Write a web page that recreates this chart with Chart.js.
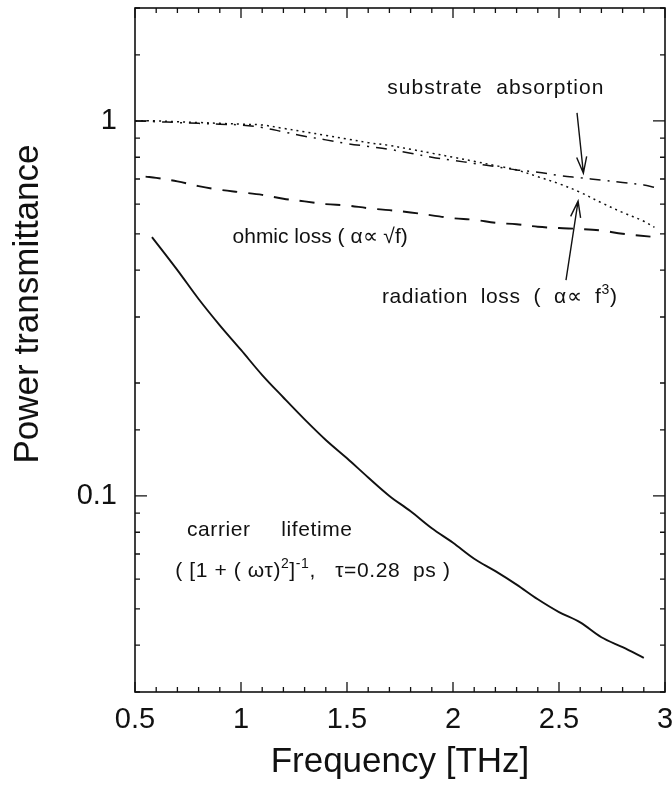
<!DOCTYPE html>
<html>
<head>
<meta charset="utf-8">
<script src="https://cdn.jsdelivr.net/npm/chart.js@4/dist/chart.umd.min.js"></script>
<style>
html, body { margin: 0; padding: 0; background: #fff; }
#wrap { width: 672px; height: 797px; }
</style>
</head>
<body>
<div id="wrap"><canvas id="chart"></canvas></div>
<script>
// frequencies [THz]
const freqUpper   = [0.5, 0.6, 0.7, 0.8, 0.9, 1.0, 1.1, 1.2, 1.3, 1.4, 1.5, 1.6, 1.7, 1.8, 1.9, 2.0, 2.1, 2.2, 2.3, 2.4, 2.5, 2.6, 2.7, 2.8, 2.9, 2.95];
const freqOhmic   = [0.55, 0.6, 0.7, 0.8, 0.9, 1.0, 1.1, 1.2, 1.3, 1.4, 1.5, 1.6, 1.7, 1.8, 1.9, 2.0, 2.1, 2.2, 2.3, 2.4, 2.5, 2.6, 2.7, 2.8, 2.95];
const freqCarrier = [0.58, 0.7, 0.8, 0.9, 1.0, 1.1, 1.2, 1.3, 1.4, 1.5, 1.6, 1.7, 1.8, 1.9, 2.0, 2.1, 2.2, 2.3, 2.4, 2.5, 2.6, 2.7, 2.8, 2.9];

// power transmittance
const substrateAbs    = [1.0, 0.995, 0.99, 0.985, 0.98, 0.975, 0.96, 0.935, 0.91, 0.89, 0.87, 0.855, 0.84, 0.82, 0.80, 0.785, 0.77, 0.755, 0.74, 0.73, 0.715, 0.705, 0.695, 0.685, 0.675, 0.665];
const radiationLoss   = [1.0, 1.0, 0.995, 0.99, 0.985, 0.98, 0.975, 0.955, 0.935, 0.915, 0.895, 0.875, 0.86, 0.84, 0.82, 0.80, 0.78, 0.76, 0.74, 0.71, 0.68, 0.645, 0.605, 0.57, 0.54, 0.52];
const ohmicLoss       = [0.71, 0.705, 0.69, 0.67, 0.655, 0.645, 0.635, 0.62, 0.61, 0.60, 0.595, 0.585, 0.578, 0.57, 0.56, 0.55, 0.545, 0.535, 0.53, 0.522, 0.518, 0.515, 0.51, 0.50, 0.49];
const carrierLifetime = [0.49, 0.40, 0.335, 0.285, 0.245, 0.21, 0.183, 0.16, 0.141, 0.126, 0.112, 0.10, 0.091, 0.082, 0.075, 0.068, 0.063, 0.058, 0.053, 0.049, 0.046, 0.042, 0.0395, 0.037];

// axis ranges and labelled ticks
const xRange = [0.5, 3];
const yRange = [0.03, 2];
const xTickLabels = ['0.5', '1', '1.5', '2', '2.5', '3'];
const yTickLabels = ['0.1', '1'];

const FONT = '"Liberation Sans", Arial, Helvetica, sans-serif';
const INK = '#111';

const pts = (xs, ys) => xs.map((x, i) => ({ x: x, y: ys[i] }));

const lineSet = (label, data, dash, width) => ({
    label: label,
    data: data,
    borderColor: INK,
    borderWidth: width,
    borderDash: dash,
    pointRadius: 0,
    fill: false,
    tension: 0.35
});

// keep tick labels from pushing the plot area inwards
const noOverhang = s => {
    s.paddingLeft = 0; s.paddingRight = 0;
    s.paddingTop = 0;  s.paddingBottom = 0;
};

// frame, inward ticks on all four sides, notes and the y title
const decor = {
    id: 'decor',
    afterDraw(chart) {
        const ctx = chart.ctx;
        const xs = chart.scales.x;
        const ys = chart.scales.y;
        const a = chart.chartArea;

        ctx.save();
        ctx.strokeStyle = INK;
        ctx.lineWidth = 1.6;
        ctx.strokeRect(a.left, a.top, a.right - a.left, a.bottom - a.top);

        ctx.lineWidth = 1.3;
        ctx.beginPath();
        xs.ticks.forEach(t => {
            const px = xs.getPixelForValue(t.value);
            const major = Math.abs(t.value * 2 - Math.round(t.value * 2)) < 1e-6;
            const len = major ? 10 : 5;
            ctx.moveTo(px, a.bottom); ctx.lineTo(px, a.bottom - len);
            ctx.moveTo(px, a.top);    ctx.lineTo(px, a.top + len);
        });
        ys.ticks.forEach(t => {
            const py = ys.getPixelForValue(t.value);
            const lg = Math.log10(t.value);
            const major = Math.abs(lg - Math.round(lg)) < 1e-6;
            const len = major ? 12 : 5;
            ctx.moveTo(a.left, py);  ctx.lineTo(a.left + len, py);
            ctx.moveTo(a.right, py); ctx.lineTo(a.right - len, py);
        });
        ctx.stroke();

        // y axis title
        ctx.fillStyle = INK;
        ctx.save();
        ctx.translate(28, 304);
        ctx.rotate(-Math.PI / 2);
        ctx.font = '35px ' + FONT;
        ctx.textAlign = 'center';
        ctx.textBaseline = 'middle';
        ctx.fillText('Power transmittance', 0, 0);
        ctx.restore();

        // text runs with superscripts, placed in data units
        const run = (fx, fy, parts, size, spacing) => {
            let x = xs.getPixelForValue(fx);
            const y = ys.getPixelForValue(fy);
            ctx.textAlign = 'left';
            ctx.textBaseline = 'alphabetic';
            ctx.letterSpacing = (spacing || 0) + 'px';
            parts.forEach(p => {
                const sup = typeof p !== 'string';
                const s = sup ? p.sup : p;
                ctx.font = (sup ? Math.round(size * 0.65) : size) + 'px ' + FONT;
                ctx.fillText(s, x, sup ? y - size * 0.45 : y);
                x += ctx.measureText(s).width;
            });
            ctx.letterSpacing = '0px';
        };

        const arrow = (f0, v0, f1, v1) => {
            const x0 = xs.getPixelForValue(f0), y0 = ys.getPixelForValue(v0);
            const x1 = xs.getPixelForValue(f1), y1 = ys.getPixelForValue(v1);
            const ang = Math.atan2(y1 - y0, x1 - x0);
            const h = 17, w = 0.3;
            ctx.lineWidth = 1.4;
            ctx.beginPath();
            ctx.moveTo(x0, y0); ctx.lineTo(x1, y1);
            ctx.moveTo(x1 - h * Math.cos(ang - w), y1 - h * Math.sin(ang - w));
            ctx.lineTo(x1, y1);
            ctx.lineTo(x1 - h * Math.cos(ang + w), y1 - h * Math.sin(ang + w));
            ctx.stroke();
        };

        run(1.69, 1.18, ['substrate  absorption'], 21, 1);
        arrow(2.585, 1.05, 2.615, 0.726);

        run(0.96, 0.472, ['ohmic loss ( \u03b1\u221d \u221af)'], 21);

        run(1.665, 0.326, ['radiation  loss  (  \u03b1\u221d  f', { sup: '3' }, ')'], 21, 0.6);
        arrow(2.533, 0.376, 2.59, 0.611);

        run(0.745, 0.0782, ['carrier'], 21, 0.6);
        run(1.19, 0.0782, ['lifetime'], 21, 0.6);
        run(0.69, 0.0607, ['( [1 + ( \u03c9\u03c4)', { sup: '2' }, ']', { sup: '-1' }, ',   \u03c4=0.28  ps )'], 21, 0.6);

        ctx.restore();
    }
};

const chart = new Chart(document.getElementById('chart'), {
    type: 'line',
    data: {
        datasets: [
            lineSet('substrate absorption', pts(freqUpper, substrateAbs), [11, 7, 2, 7], 1.5),
            lineSet('radiation loss', pts(freqUpper, radiationLoss), [2, 4], 1.5),
            lineSet('ohmic loss', pts(freqOhmic, ohmicLoss), [15, 11], 1.9),
            lineSet('carrier lifetime', pts(freqCarrier, carrierLifetime), [], 1.9)
        ]
    },
    options: {
        responsive: true,
        maintainAspectRatio: false,
        animation: false,
        events: [],
        layout: { padding: { top: 8, right: 7, left: 0, bottom: 0 } },
        plugins: { legend: { display: false }, tooltip: { enabled: false } },
        scales: {
            x: {
                type: 'linear',
                min: xRange[0],
                max: xRange[1],
                afterFit: s => { s.height = 105; noOverhang(s); },
                grid: { display: false, drawTicks: false },
                border: { display: false },
                ticks: {
                    stepSize: 0.1,
                    autoSkip: false,
                    maxRotation: 0,
                    padding: 11,
                    color: INK,
                    font: { family: FONT, size: 29 },
                    callback: v => {
                        const i = xTickLabels.findIndex(l => Math.abs(parseFloat(l) - v) < 1e-6);
                        return i >= 0 ? xTickLabels[i] : '';
                    }
                },
                title: {
                    display: true,
                    text: 'Frequency [THz]',
                    color: INK,
                    font: { family: FONT, size: 35 },
                    padding: { top: 0, bottom: 14 }
                }
            },
            y: {
                type: 'logarithmic',
                min: yRange[0],
                max: yRange[1],
                afterFit: s => { s.width = 135; noOverhang(s); },
                grid: { display: false, drawTicks: false },
                border: { display: false },
                ticks: {
                    autoSkip: false,
                    padding: 18,
                    color: INK,
                    font: { family: FONT, size: 29 },
                    callback: v => {
                        const i = yTickLabels.findIndex(l => Math.abs(parseFloat(l) - v) < 1e-9);
                        return i >= 0 ? yTickLabels[i] : '';
                    }
                }
            }
        }
    },
    plugins: [decor]
});
</script>
</body>
</html>
